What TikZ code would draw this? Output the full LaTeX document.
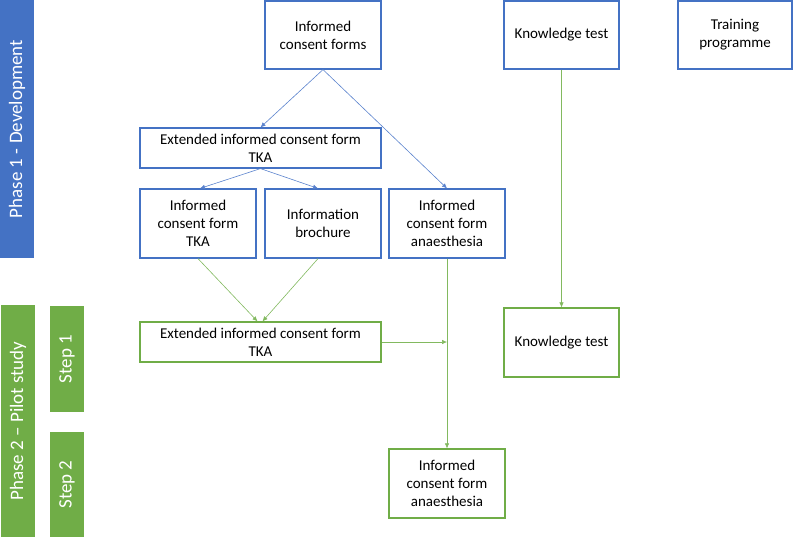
\documentclass[tikz,border=0pt]{standalone}
\usepackage{fontspec}
\setmainfont{Carlito}
\usepackage{xcolor}
\usetikzlibrary{arrows.meta}
\definecolor{clrB}{RGB}{68,114,196}
\definecolor{clrG}{RGB}{112,173,71}
\definecolor{lnB}{RGB}{90,130,205}
\definecolor{lnG}{RGB}{130,185,95}
\tikzset{
  box/.style={rectangle,line width=1.2pt,fill=white,align=center,inner sep=0pt,
    font=\fontsize{15}{18}\selectfont},
  boxB/.style={box,draw=clrB},
  boxG/.style={box,draw=clrG},
  phasebar/.style={rectangle,inner sep=0pt,rotate=90,text=white,
    minimum height=34pt,font=\fontsize{19}{22}\selectfont},
  arrow/.style={-{Latex[length=5pt,width=4.5pt]},line width=0.6pt}
}
\begin{document}
\begin{tikzpicture}[x=1pt,y=1pt]
\useasboundingbox (0,0) rectangle (794,-538);

% Phase and step labels on the left
\node[phasebar,fill=clrB,minimum width=258pt] (phaseA) at (17,-129)
  {Phase 1 - Development};
\node[phasebar,fill=clrG,minimum width=232pt] (phaseB) at (18,-421)
  {Phase 2 -- Pilot study};
\node[phasebar,fill=clrG,minimum width=106pt] (stepA) at (67,-359) {Step 1};
\node[phasebar,fill=clrG,minimum width=105pt] (stepB) at (67,-484.5) {Step 2};

% Phase 1 boxes
\node[boxB,minimum width=116pt,minimum height=68pt] (forms) at (323,-35)
  {Informed\\consent forms};
\node[boxB,minimum width=115pt,minimum height=68pt] (know) at (561.5,-35)
  {Knowledge test};
\node[boxB,minimum width=114pt,minimum height=68pt] (train) at (735,-35)
  {Training\\programme};
\node[boxB,minimum width=241pt,minimum height=40pt] (extB) at (260.5,-148)
  {Extended informed consent form\\TKA};
\node[boxB,minimum width=116pt,minimum height=69pt] (tka) at (198,-223.5)
  {Informed\\consent form\\TKA};
\node[boxB,minimum width=116pt,minimum height=69pt] (bro) at (323,-223.5)
  {Information\\brochure};
\node[boxB,minimum width=116pt,minimum height=69pt] (anaB) at (447,-223.5)
  {Informed\\consent form\\anaesthesia};

% Phase 2 boxes
\node[boxG,minimum width=241pt,minimum height=40pt] (extG) at (260.5,-342)
  {Extended informed consent form\\TKA};
\node[boxG,minimum width=115pt,minimum height=69pt] (knowG) at (561.5,-342.5)
  {Knowledge test};
\node[boxG,minimum width=116pt,minimum height=69pt] (anaG) at (447,-483.5)
  {Informed\\consent form\\anaesthesia};

% Development arrows
\draw[arrow,lnB] (forms.south) -- (extB.north);
\draw[arrow,lnB] (forms.south) -- (anaB.north);
\draw[arrow,lnB] (extB.south) -- ([xshift=2pt]tka.north);
\draw[arrow,lnB] (extB.south) -- ([xshift=-5pt]bro.north);

% Pilot arrows
\draw[arrow,lnG] (tka.south) -- ([xshift=-3pt]extG.north);
\draw[arrow,lnG] ([xshift=-5pt]bro.south) -- ([xshift=2pt]extG.north);
\draw[arrow,lnG] (know.south) -- (knowG.north);
\draw[arrow,lnG] (anaB.south) -- (anaG.north);
\coordinate (join) at (anaB.south |- extG.east);
\draw[arrow,lnG] (extG.east) -- (join);
\end{tikzpicture}
\end{document}
